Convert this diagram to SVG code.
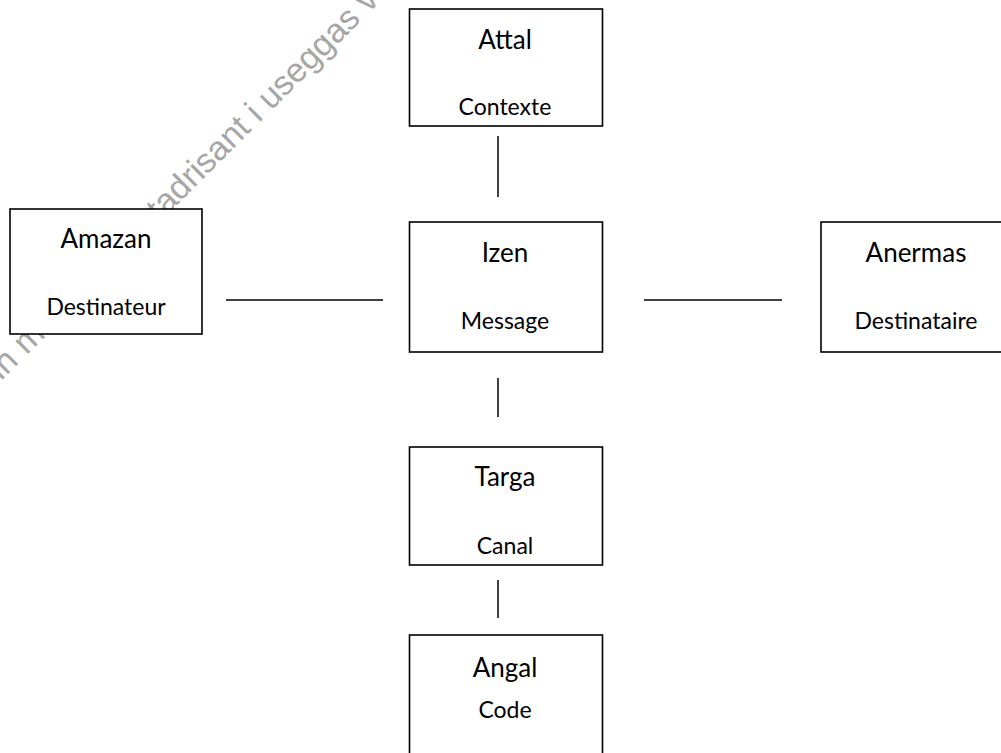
<svg xmlns="http://www.w3.org/2000/svg" width="1001" height="753" viewBox="0 0 1001 753">
<style>
  .box { fill: #ffffff; stroke: #000000; stroke-width: 1.6; }
  .conn line { stroke: #000000; stroke-width: 1.5; }
  .t1 { font-family: Lato, "Open Sans", sans-serif; font-size: 26px; fill: #000; text-anchor: middle; }
  .t2 { font-family: Lato, "Open Sans", sans-serif; font-size: 23px; fill: #000; text-anchor: middle; }
  .wm { font-family: "Liberation Sans", Arial, sans-serif; font-size: 34px; fill: #a6a6a6; }
</style>
<rect x="0" y="0" width="1001" height="753" fill="#ffffff"/>
<g id="watermark">
  <text class="wm" transform="translate(1,381) rotate(-45)">in m</text>
  <text class="wm" transform="translate(160,222) rotate(-45)">tadrisant i useggas v</text>
</g>
<g id="connectors" class="conn">
  <line x1="498" y1="136" x2="498" y2="197"/>
  <line x1="498" y1="378" x2="498" y2="417"/>
  <line x1="498" y1="580" x2="498" y2="618"/>
  <line x1="226" y1="300" x2="383" y2="300"/>
  <line x1="644" y1="300" x2="782" y2="300"/>
</g>
<g id="attal">
  <rect class="box" x="409.5" y="9" width="193" height="117"/>
  <text class="t1" x="505" y="49">Attal</text>
  <text class="t2" x="505" y="115">Contexte</text>
</g>
<g id="amazan">
  <rect class="box" x="10" y="209" width="192" height="125"/>
  <text class="t1" x="106" y="248">Amazan</text>
  <text class="t2" x="106" y="315">Destinateur</text>
</g>
<g id="izen">
  <rect class="box" x="409.5" y="222" width="193" height="130"/>
  <text class="t1" x="505" y="262">Izen</text>
  <text class="t2" x="505" y="329">Message</text>
</g>
<g id="anermas">
  <rect class="box" x="821" y="222" width="193" height="130"/>
  <text class="t1" x="916" y="262">Anermas</text>
  <text class="t2" x="916" y="329">Destinataire</text>
</g>
<g id="targa">
  <rect class="box" x="409.5" y="447" width="193" height="118"/>
  <text class="t1" x="505" y="486">Targa</text>
  <text class="t2" x="505" y="554">Canal</text>
</g>
<g id="angal">
  <rect class="box" x="409.5" y="635" width="193" height="140"/>
  <text class="t1" x="505" y="677">Angal</text>
  <text class="t2" x="505" y="718">Code</text>
</g>
</svg>
